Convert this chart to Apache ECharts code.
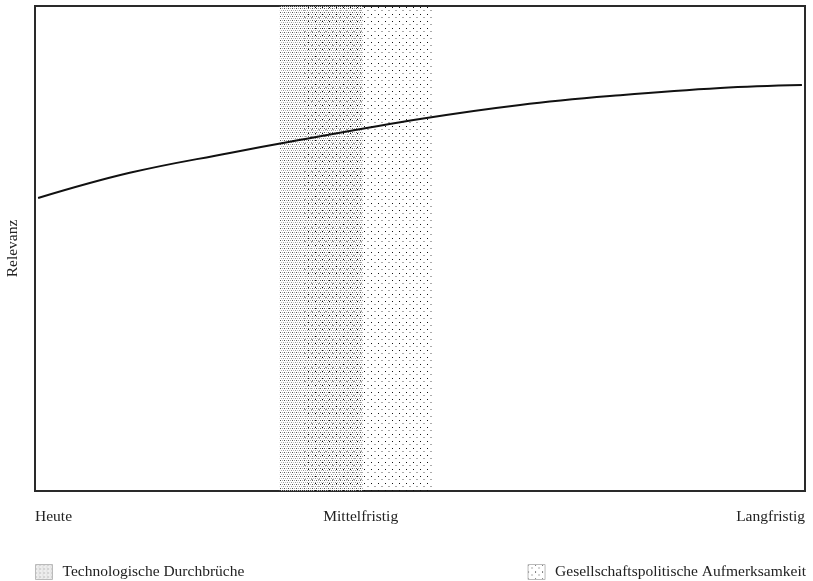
<!DOCTYPE html>
<html>
<head>
<meta charset="utf-8">
<script src="https://cdn.jsdelivr.net/npm/echarts@6/dist/echarts.min.js"></script>
<style>html,body{margin:0;padding:0;background:#fff}#c{width:813px;height:581px}</style>
</head>
<body>
<div id="c"></div>
<script>
// ---- data ----
var xTickValues = [0, 42.3, 100];
var xTickLabels = ['Heute', 'Mittelfristig', 'Langfristig'];
var yAxisName = 'Relevanz';
var curveX = [0.4, 12.3, 25.3, 33.1, 50.0, 63.0, 76.0, 89.0, 99.6];
var curveY = [60.4, 65.6, 69.7, 72.0, 76.7, 79.6, 81.6, 83.1, 83.7];
var bandNames = ['Technologische Durchbrüche', 'Gesellschaftspolitische Aufmerksamkeit'];
var bandStart = [31.8, 34.7];
var bandEnd = [42.6, 51.6];

// ---- patterns ----
function makePattern(w, h, dots) {
  var cv = document.createElement('canvas');
  cv.width = w; cv.height = h;
  var ctx = cv.getContext('2d');
  dots.forEach(function (d) { ctx.fillStyle = d[4]; ctx.fillRect(d[0], d[1], d[2], d[3]); });
  return { image: cv, repeat: 'repeat' };
}
var techPattern = makePattern(4, 4, [
  [0, 0, 1, 1, '#555'], [2, 0, 1, 1, '#aaa'],
  [1, 2, 1, 1, '#bbb'], [3, 2, 1, 1, '#999']
]);
var gesPattern = makePattern(7, 7, [
  [0, 0, 1, 1, '#111'], [3, 3, 2, 1, '#aaa']
]);
var patterns = [techPattern, gesPattern];

var font = '"Liberation Serif", "DejaVu Serif", serif';
var fs = 15.5;
var curveData = curveX.map(function (x, i) { return [x, curveY[i]]; });

var series = [{
  type: 'line', name: 'Relevanz', data: curveData, smooth: 0.4, symbol: 'none',
  lineStyle: { color: '#111', width: 2 }, z: 5, silent: true
}];
bandNames.forEach(function (n, i) {
  series.push({
    type: 'line', name: n, data: [], symbol: 'none', silent: true,
    itemStyle: { color: '#888' },
    markArea: {
      silent: true,
      itemStyle: { color: patterns[i] },
      data: [[{ xAxis: bandStart[i] }, { xAxis: bandEnd[i] }]]
    }
  });
});

var legendText = { fontSize: fs, color: '#222', fontFamily: font, padding: [0, 0, 0, 5] };

var chart = echarts.init(document.getElementById('c'), null, { renderer: 'canvas' });
chart.setOption({
  animation: false,
  backgroundColor: '#fff',
  textStyle: { fontFamily: font },
  grid: { left: 35, top: 6, right: 8, bottom: 90, show: true, borderColor: '#2a2a2a', borderWidth: 2,
          backgroundColor: 'transparent', containLabel: false, outerBoundsMode: 'none' },
  xAxis: {
    type: 'value', min: 0, max: 100,
    axisLine: { show: false }, axisTick: { show: false }, splitLine: { show: false },
    axisLabel: {
      customValues: xTickValues,
      formatter: function (v) { var i = xTickValues.indexOf(v); return i >= 0 ? xTickLabels[i] : ''; },
      margin: 18, fontSize: fs, color: '#222', fontFamily: font,
      alignMinLabel: 'left', alignMaxLabel: 'right'
    }
  },
  yAxis: {
    type: 'value', min: 0, max: 100,
    name: yAxisName, nameLocation: 'middle', nameGap: 14,
    nameTextStyle: { fontSize: fs, color: '#222', fontFamily: font, padding: [0, 0, 0, 0] },
    axisLine: { show: false }, axisTick: { show: false }, splitLine: { show: false },
    axisLabel: { show: false }
  },
  legend: [{
    left: 30, top: 559, itemWidth: 17, itemHeight: 15, itemGap: 6, selectedMode: false,
    textStyle: legendText,
    data: [{ name: bandNames[0], icon: 'rect', itemStyle: { color: techPattern, borderColor: '#bbb', borderWidth: 1 } }]
  }, {
    right: 2, top: 559, itemWidth: 17, itemHeight: 15, itemGap: 6, selectedMode: false,
    textStyle: legendText,
    data: [{ name: bandNames[1], icon: 'rect', itemStyle: { color: gesPattern, borderColor: '#bbb', borderWidth: 1 } }]
  }],
  series: series
});
</script>
</body>
</html>
